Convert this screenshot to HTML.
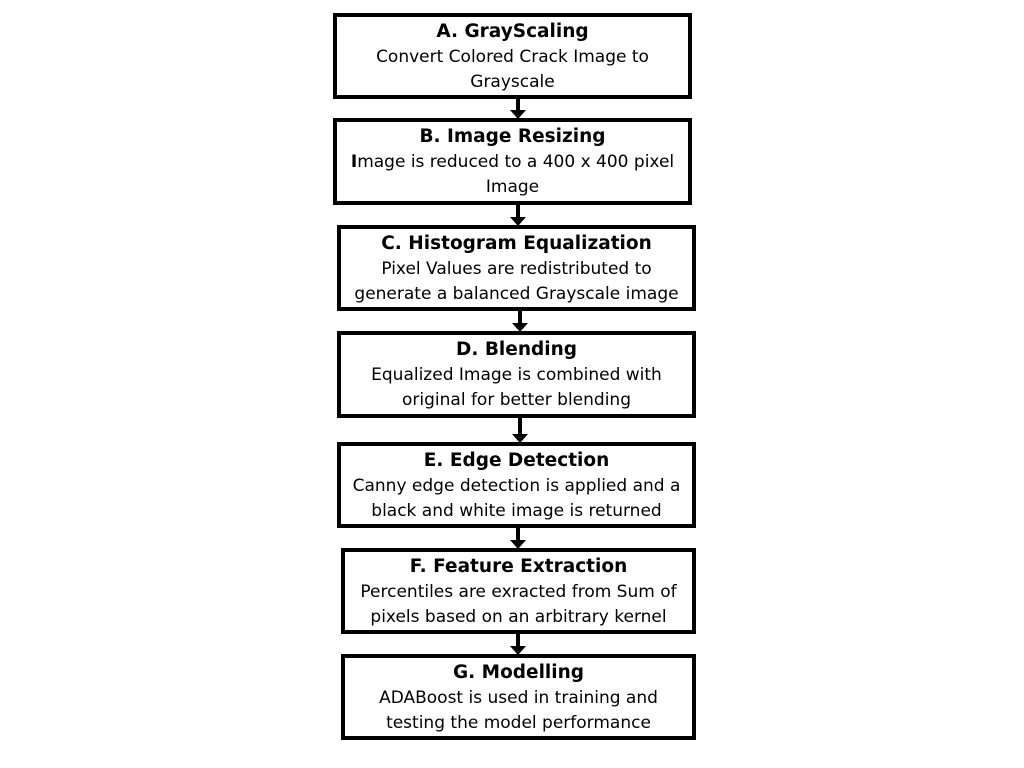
<!DOCTYPE html>
<html><head><meta charset="utf-8"><style>
body{margin:0;width:1024px;height:768px;background:#fff;position:relative;font-family:"DejaVu Sans","Liberation Sans",sans-serif;overflow:hidden}
.box{position:absolute;box-sizing:border-box;border:4px solid #000;background:#fff;text-align:center;color:#000;padding-top:2px}
.t{font-weight:bold;font-size:18.5px;line-height:26px}
.d{font-size:17px;line-height:25px;white-space:nowrap;margin:0 -10px}
.ln{position:absolute;width:4px;background:#000}
.hd{position:absolute;width:0;height:0;border-left:8px solid transparent;border-right:8px solid transparent;border-top:9px solid #000}
</style></head><body>
<div class="box" style="left:333px;top:13px;width:359px;height:86px"><div class="t">A. GrayScaling</div><div class="d">Convert Colored Crack Image to<br>Grayscale</div></div>
<div class="box" style="left:333px;top:118px;width:359px;height:87px"><div class="t">B. Image Resizing</div><div class="d"><b>I</b>mage is reduced to a 400 x 400 pixel<br>Image</div></div>
<div class="box" style="left:337px;top:225px;width:359px;height:86px"><div class="t">C. Histogram Equalization</div><div class="d">Pixel Values are redistributed to<br>generate a balanced Grayscale image</div></div>
<div class="box" style="left:337px;top:331px;width:359px;height:87px"><div class="t">D. Blending</div><div class="d">Equalized Image is combined with<br>original for better blending</div></div>
<div class="box" style="left:337px;top:442px;width:359px;height:86px"><div class="t">E. Edge Detection</div><div class="d">Canny edge detection is applied and a<br>black and white image is returned</div></div>
<div class="box" style="left:341px;top:548px;width:355px;height:86px"><div class="t">F. Feature Extraction</div><div class="d">Percentiles are exracted from Sum of<br>pixels based on an arbitrary kernel</div></div>
<div class="box" style="left:341px;top:654px;width:355px;height:86px"><div class="t">G. Modelling</div><div class="d">ADABoost is used in training and<br>testing the model performance</div></div>

<div class="ln" style="left:516px;top:99px;height:12px"></div><div class="hd" style="left:510px;top:110px"></div>
<div class="ln" style="left:516px;top:205px;height:13px"></div><div class="hd" style="left:510px;top:217px"></div>
<div class="ln" style="left:518px;top:311px;height:12px"></div><div class="hd" style="left:512px;top:323px"></div>
<div class="ln" style="left:518px;top:418px;height:16px"></div><div class="hd" style="left:512px;top:434px"></div>
<div class="ln" style="left:516px;top:528px;height:12px"></div><div class="hd" style="left:510px;top:540px"></div>
<div class="ln" style="left:516px;top:634px;height:12px"></div><div class="hd" style="left:510px;top:646px"></div>
</body></html>
